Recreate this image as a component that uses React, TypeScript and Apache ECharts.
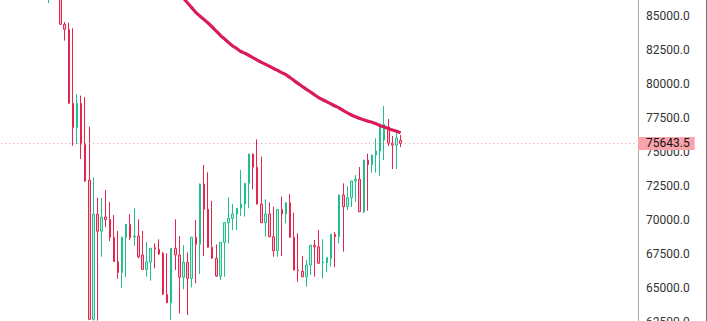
import React, { useEffect, useRef } from "react";
import * as echarts from "echarts";

// ---- data ----
const LEAD_SLOTS = 11; // empty category slots before the first candle
const TOTAL_SLOTS = 155;

const opens = [
  86760, 87900, 87300, 86900, 84390, 84020, 78590, 76800, 78590, 75580,
  72950, 62720, 70440, 69190, 70240, 70050, 68750, 66970, 66150, 68720,
  69700, 68770, 68840, 67450, 66390, 66930, 67980, 67870, 67570, 64560,
  63940, 67940, 67450, 65810, 66910, 65730, 68750, 68230, 72660, 70800,
  68010, 67200, 65900, 68380, 69820, 70140, 70460, 70880, 71190, 72710,
  74860, 73890, 71190, 69820, 70460, 68790, 67760, 70800, 70460, 71290,
  68750, 66340, 66250, 65850, 66710, 68160, 68050, 66860, 66880, 67200,
  68970, 68790, 71850, 70990, 71650, 72880, 73010, 70630, 74420, 74080,
  74790, 75080, 75890, 76850, 75670, 75520, 75860,
];
const closes = [
  87640, 87300, 86800, 84390, 84020, 78590, 76800, 78590, 75580, 72880,
  62720, 70440, 69190, 70240, 70050, 68750, 66970, 66150, 68750, 69700,
  68720, 68840, 67320, 66390, 66950, 67940, 67890, 67520, 64580, 63940,
  67940, 67450, 65810, 66910, 65730, 68750, 68230, 72660, 70800, 68010,
  67200, 65900, 68380, 69820, 70140, 70460, 70880, 71190, 72710, 74860,
  73890, 71190, 69820, 70460, 68790, 67760, 70800, 70460, 71290, 68750,
  66340, 66290, 65850, 66710, 68160, 68050, 66840, 66930, 67250, 68970,
  68790, 71850, 70990, 71650, 72880, 73010, 70630, 74420, 74080, 74790,
  75080, 76990, 77050, 75670, 75520, 76040, 75643.5,
];
const lows = [
  85950, 86700, 86400, 84340, 83190, 78560, 75470, 75580, 74500, 72820,
  62680, 62630, 62630, 67320, 69500, 68470, 66930, 65700, 65040, 65810,
  68550, 68110, 67200, 66340, 65850, 65560, 66470, 67450, 64510, 63920,
  62670, 66340, 63160, 64930, 63040, 65070, 65370, 66050, 67370, 67980,
  67170, 65830, 65610, 65850, 68300, 69280, 69280, 70310, 70260, 70880,
  72270, 71160, 69790, 68790, 68760, 67320, 67320, 67370, 69770, 68720,
  66310, 65480, 65820, 65120, 65980, 65850, 66810, 65730, 66220, 66590,
  66550, 68300, 67690, 70750, 70970, 71360, 70600, 70510, 70700, 73500,
  73500, 73270, 74420, 75450, 73760, 73760, 75380,
];
const highs = [
  88010, 88200, 87600, 87000, 84560, 84510, 84100, 79250, 79150, 79030,
  76870, 73150, 71650, 71630, 72220, 71340, 70380, 69210, 68780, 69730,
  70460, 70880, 70070, 69210, 68400, 67960, 68300, 68600, 67660, 67570,
  67960, 70070, 68840, 68180, 67640, 68770, 70020, 72690, 74060, 73520,
  71430, 68230, 68400, 69840, 71680, 71190, 70900, 73690, 72740, 74890,
  74900, 75940, 74670, 71540, 71290, 70990, 70820, 71730, 71310, 71930,
  70550, 69040, 67370, 67080, 68180, 68550, 69280, 68600, 67270, 68990,
  69150, 71870, 72710, 72490, 72900, 73320, 73910, 74440, 74890, 74810,
  76020, 77010, 78390, 77430, 76190, 76550, 76260,
];

const MA_START = 33; // candle index of the first moving-average point
const maValues = [
  86300, 85955, 85617, 85272, 85000, 84743, 84486, 84192, 83884, 83582,
  83318, 83054, 82797, 82613, 82393, 82260, 82099, 81930, 81761, 81599,
  81452, 81306, 81144, 80997, 80843, 80696, 80483, 80255, 80035, 79822,
  79616, 79418, 79212, 79014, 78852, 78698, 78544, 78390, 78243, 78052,
  77890, 77729, 77596, 77471, 77376, 77281, 77192, 77082, 76957, 76847,
  76737, 76627, 76531, 76428,
];

const LAST_PRICE = 75643.5;
const Y_MIN = 60000;
const Y_MAX = 86175.2;
const Y_STEP = 2500;

const UP = "#1fbf8f";
const UP_FILL = "#c4efe0";
const DOWN = "#e5254d";
const DOWN_FILL = "#f8c6d0";
const MA_COLOR = "#d91b5c";

export default function App() {
  const ref = useRef<HTMLDivElement>(null);

  useEffect(() => {
    document.body.style.margin = "0";
    const chart = echarts.init(ref.current!, undefined, { renderer: "svg" });

    const categories = Array.from({ length: TOTAL_SLOTS }, (_, i) => String(i));
    const candleData = categories.map((_, s) => {
      const i = s - LEAD_SLOTS;
      if (i < 0 || i >= opens.length) return "-";
      return [opens[i], closes[i], lows[i], highs[i]];
    });
    const maData = categories.map((_, s) => {
      const i = s - LEAD_SLOTS - MA_START;
      if (i < 0 || i >= maValues.length) return "-";
      return maValues[i];
    });

    chart.setOption({
      animation: false,
      backgroundColor: "#ffffff",
      grid: {
        left: 1.2,
        right: 70.8,
        top: 0,
        height: 356.4,
        outerBoundsMode: "none",
        containLabel: false,
      },
      xAxis: {
        type: "category",
        data: categories,
        boundaryGap: true,
        show: false,
      },
      yAxis: {
        type: "value",
        position: "right",
        min: Y_MIN,
        max: Y_MAX,
        interval: Y_STEP,
        offset: 1.8,
        axisLine: { show: true, lineStyle: { color: "#a8a8a8", width: 1 } },
        axisTick: { show: false },
        splitLine: { show: false },
        axisLabel: {
          color: "#333333",
          fontSize: 12,
          fontFamily: "Roboto",
          margin: 8,
          formatter: (v: number) => (v % Y_STEP === 0 ? v.toFixed(1) : ""),
        },
      },
      graphic: [
        {
          type: "line",
          shape: { x1: 706.5, y1: 0, x2: 706.5, y2: 321 },
          style: { stroke: "#6e6e6e", lineWidth: 1 },
          silent: true,
        },
      ],
      series: [
        {
          type: "candlestick",
          data: candleData,
          barWidth: 2,
          itemStyle: {
            color: UP_FILL,
            color0: DOWN_FILL,
            borderColor: UP,
            borderColor0: DOWN,
            borderWidth: 1,
          },
          markLine: {
            silent: true,
            symbol: ["none", "none"],
            data: [{ yAxis: LAST_PRICE }],
            lineStyle: { color: "#f08e9b", type: [1, 3], width: 1 },
            label: {
              show: true,
              position: "end",
              distance: 1.8,
              formatter: LAST_PRICE.toFixed(1),
              backgroundColor: "#f9a3ab",
              color: "#111111",
              fontSize: 12,
              fontFamily: "Roboto",
              lineHeight: 13,
              padding: [0, 5, 0, 8],
            },
          },
        },
        {
          type: "line",
          data: maData,
          showSymbol: false,
          symbol: "none",
          smooth: 0.2,
          lineStyle: { color: MA_COLOR, width: 3.2 },
          z: 3,
        },
      ],
    });

    return () => chart.dispose();
  }, []);

  return <div ref={ref} style={{ width: 707, height: 321 }} />;
}
